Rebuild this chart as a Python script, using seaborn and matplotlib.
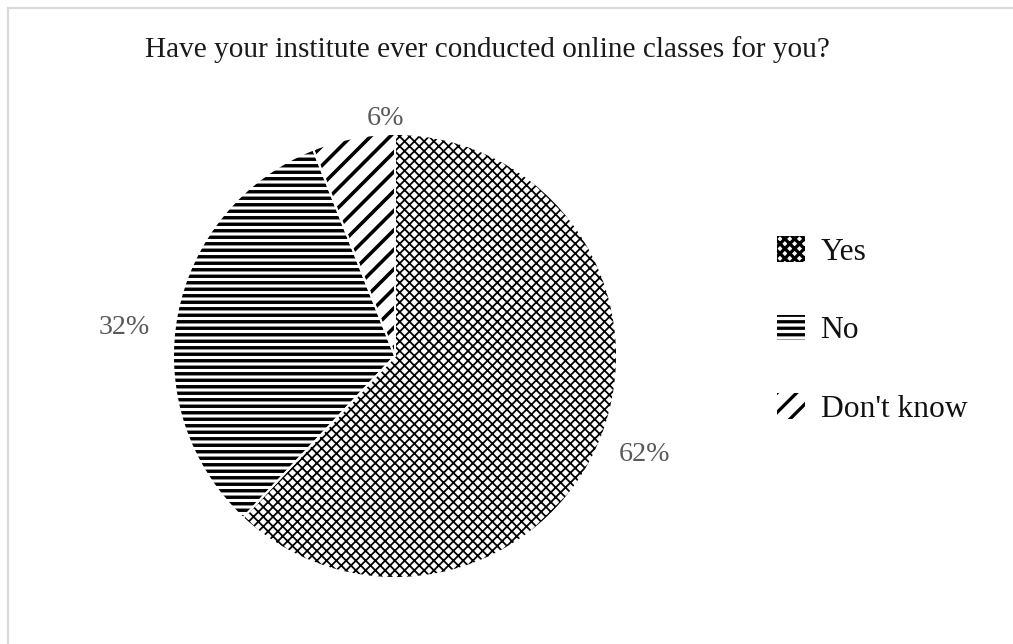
import matplotlib
matplotlib.use("Agg")
import matplotlib.pyplot as plt
import seaborn as sns
import numpy as np
from matplotlib.lines import Line2D
from matplotlib.patches import Patch

categories = ["Yes", "No", "Don't know"]
values = [62, 32, 6]
pct_labels = ["62%", "32%", "6%"]
title = "Have your institute ever conducted online classes for you?"
hatches = ["xxxx", "---", "//"]
hatch_lw = [1.1, 2.1, 2.2]

sns.set_theme(style="white")
plt.rcParams["font.family"] = ["Liberation Serif", "DejaVu Serif"]
plt.rcParams["hatch.linewidth"] = 2.0

DPI = 117
W, H = 1014, 644


def px(p):
    return p * 72.0 / DPI


fig = plt.figure(figsize=(W / DPI, H / DPI), dpi=DPI)
fig.patch.set_facecolor("white")

cx, cy, R = 395, 356, 222
ax = fig.add_axes([(cx - R) / W, (H - cy - R) / H, 2 * R / W, 2 * R / H])

wedges, _ = ax.pie(values, startangle=90, counterclock=False, radius=1,
                   colors=["white"] * 3,
                   wedgeprops=dict(edgecolor="black", linewidth=0))
for w, h, lw in zip(wedges, hatches, hatch_lw):
    w.set_hatch(h)
    if hasattr(w, "set_hatch_linewidth"):
        w.set_hatch_linewidth(lw)

# white separators on top
ax.pie(values, startangle=90, counterclock=False, radius=1,
       colors=["none"] * 3,
       wedgeprops=dict(edgecolor="white", linewidth=1.2, fill=False))
ax.set_xlim(-1, 1)
ax.set_ylim(-1, 1)
ax.set_aspect("equal")
ax.axis("off")

# percentage labels placed outside
dists = [1.21, 1.22, 1.09]
shift_x = [0, -0.02, 0.16]
shift_y = [0, -0.10, 0]
for w, lab, d, sx, sy in zip(wedges, pct_labels, dists, shift_x, shift_y):
    ang = np.deg2rad((w.theta1 + w.theta2) / 2)
    ax.text(d * np.cos(ang) + sx, d * np.sin(ang) + sy, lab, ha="center",
            va="center", fontsize=px(28), color="#595959", clip_on=False)

fig.text(487 / W, 1 - 50 / H, title, ha="center", va="center",
         fontsize=px(29.3), color="#1a1a1a")

# legend
handles = []
for h, lw in zip(hatches, hatch_lw):
    p = Patch(facecolor="white", edgecolor="black", linewidth=0, hatch=h)
    if hasattr(p, "set_hatch_linewidth"):
        p.set_hatch_linewidth(lw)
    handles.append(p)
leg = fig.legend(handles, categories, loc="center left",
                 bbox_to_anchor=(755 / W, 1 - 330 / H), frameon=False,
                 fontsize=px(31.5), labelspacing=1.52, handlelength=0.88,
                 handleheight=0.88, handletextpad=0.5, borderpad=0.2)
for t in leg.get_texts():
    t.set_color("#111111")

# outer light border (top and left visible)
fig.add_artist(Line2D([8 / W, 1], [1 - 8 / H, 1 - 8 / H], transform=fig.transFigure,
                      color="#d9d9d9", linewidth=px(2.2)))
fig.add_artist(Line2D([8 / W, 8 / W], [0, 1 - 8 / H], transform=fig.transFigure,
                      color="#d9d9d9", linewidth=px(2.2)))

fig.savefig("out.png", dpi=DPI, facecolor="white")
